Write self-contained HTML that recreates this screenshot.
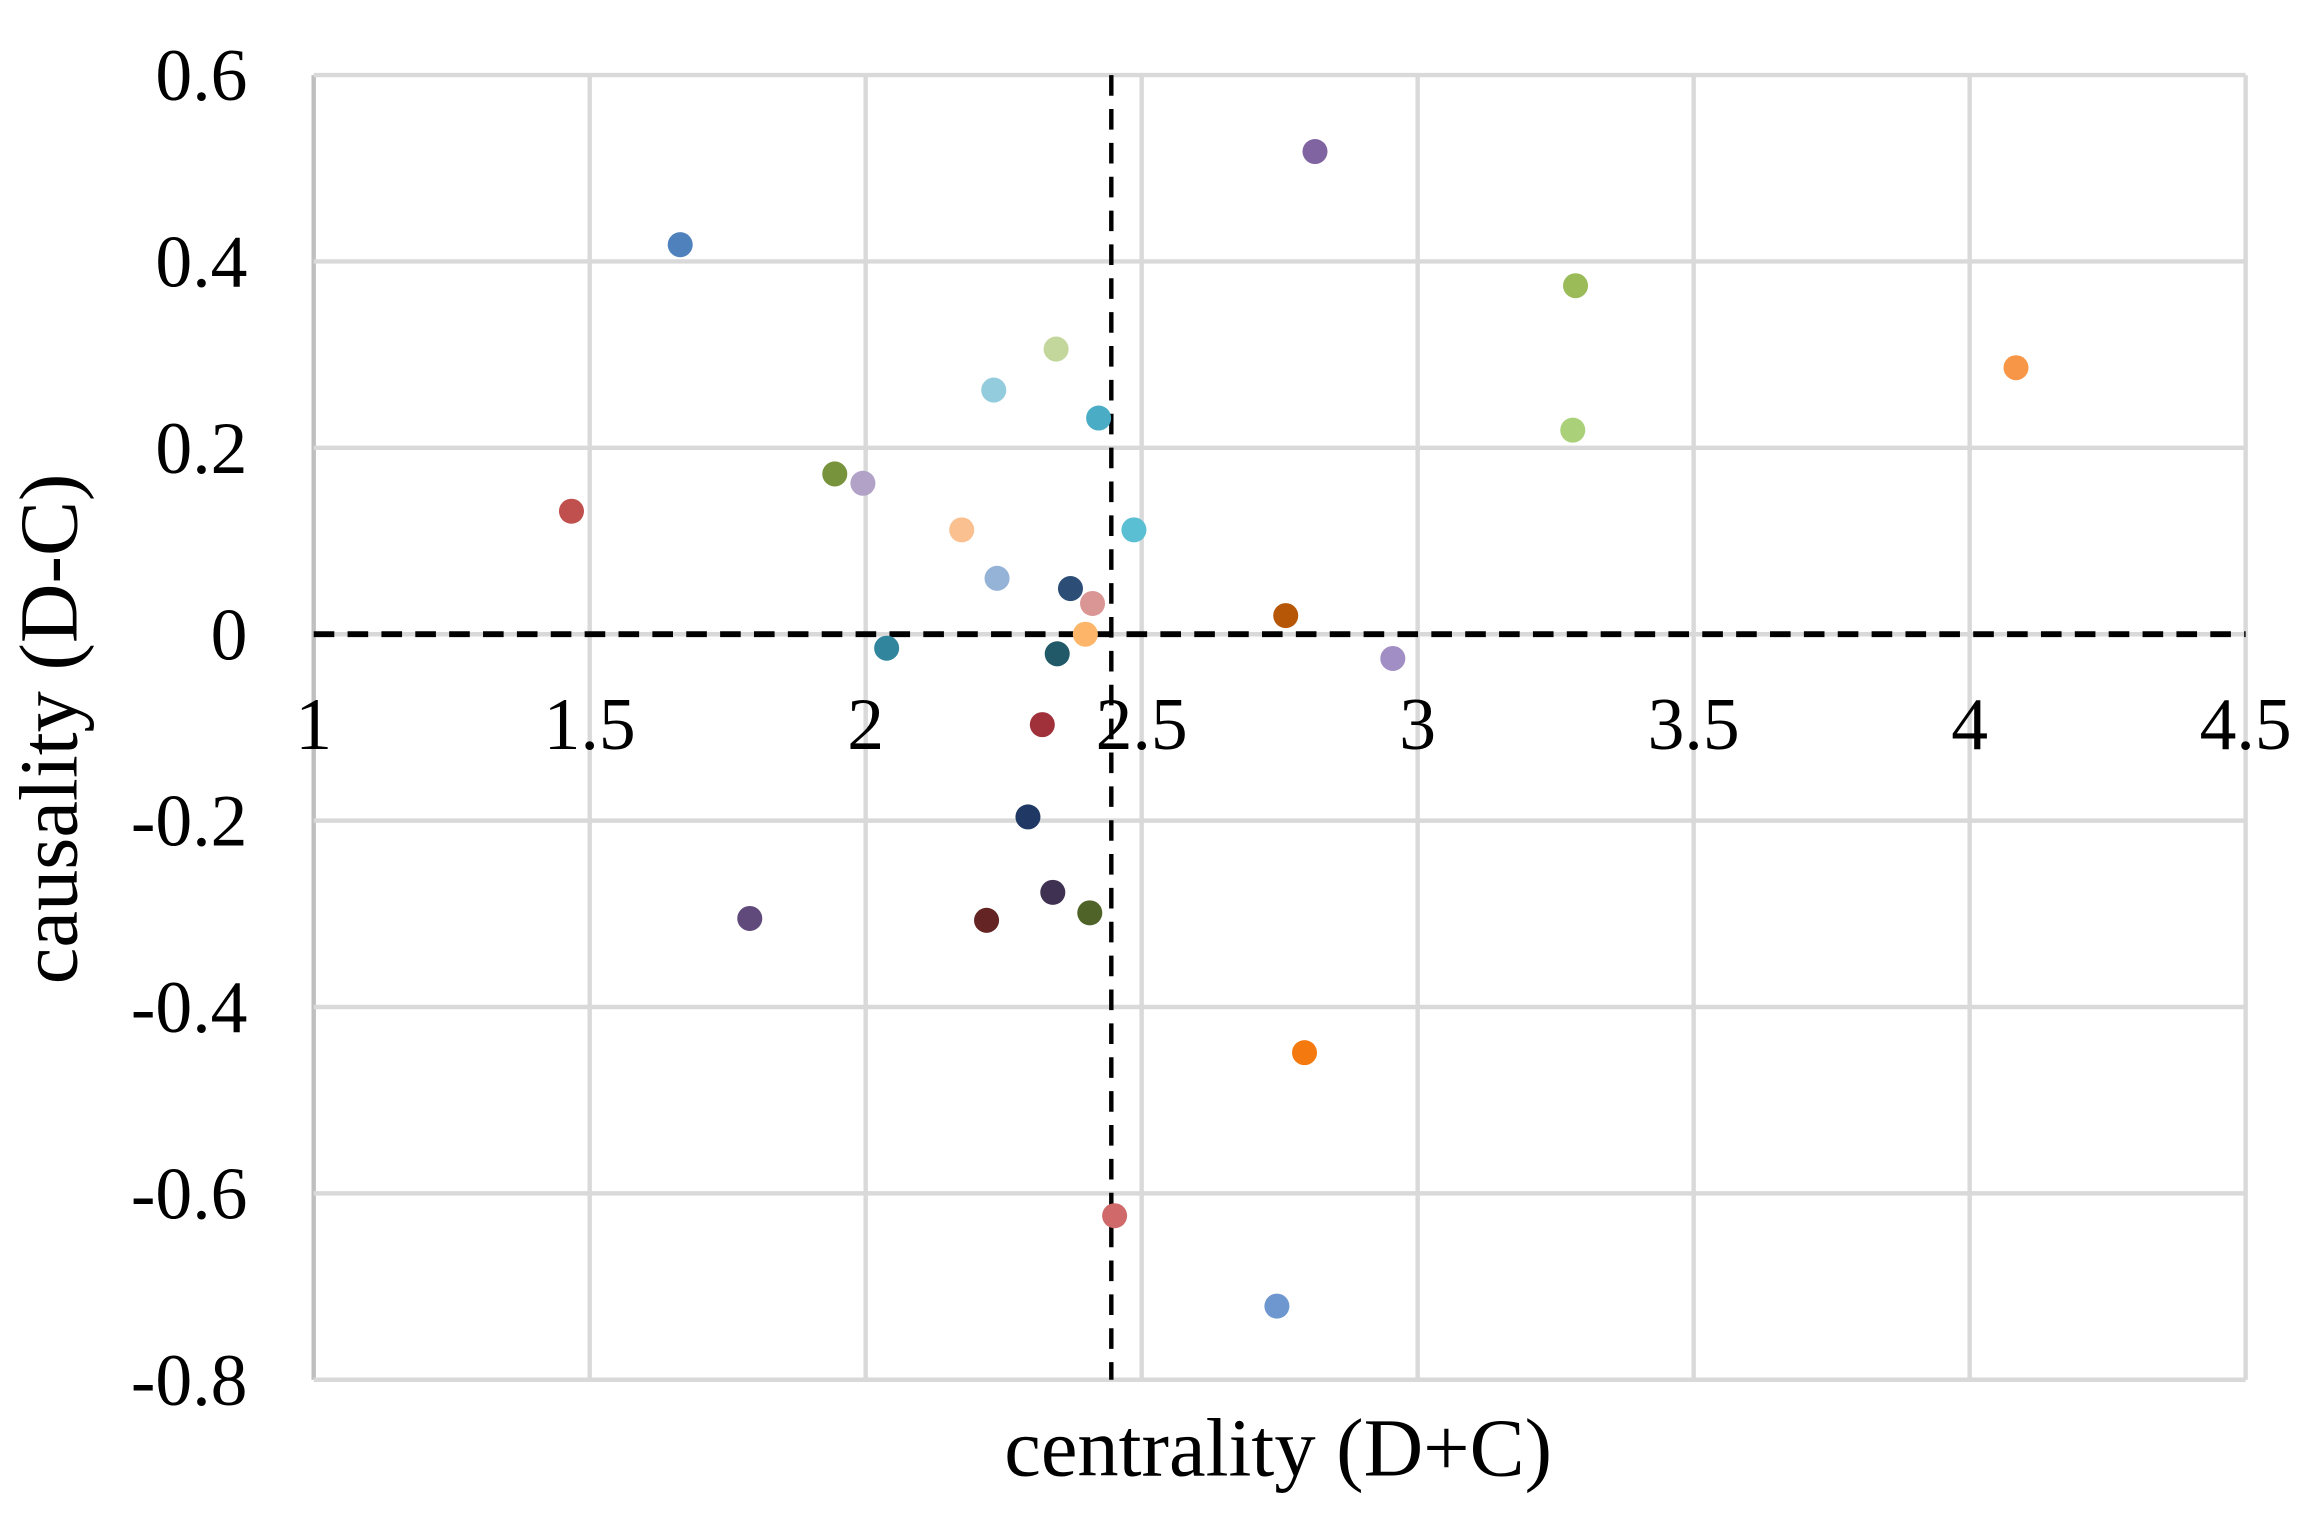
<!DOCTYPE html>
<html><head><meta charset="utf-8"><style>
html,body{margin:0;padding:0;background:#fff;}
svg{display:block;font-family:"Liberation Serif",serif;}
</style></head><body>
<svg id="chart" width="2309" height="1532" viewBox="0 0 1568 1040.4" xmlns="http://www.w3.org/2000/svg">
<g id="grid"></g>
<g id="ticks"></g>
<g id="refs"></g>
<g id="pts"></g>
<text x="868" y="1002" font-size="56" text-anchor="middle">centrality (D+C)</text>
<text transform="translate(52,495) rotate(-90)" font-size="56" text-anchor="middle">causality (D-C)</text>
</svg>
<script>
const xTicks=[1,1.5,2,2.5,3,3.5,4,4.5];
const xTickLabels=["1","1.5","2","2.5","3","3.5","4","4.5"];
const yTicks=[0.6,0.4,0.2,0,-0.2,-0.4,-0.6,-0.8];
const yTickLabels=["0.6","0.4","0.2","0","-0.2","-0.4","-0.6","-0.8"];
const xRef=2.445;
const yRef=0;
const xs=[2.814,1.664,3.286,2.345,4.084,2.232,2.422,3.281,1.944,1.995,1.467,2.174,2.486,2.238,2.371,2.411,2.761,2.398,2.038,2.347,2.955,2.320,2.294,2.339,1.790,2.219,2.406,2.795,2.451,2.745];
const ys=[0.518,0.418,0.374,0.306,0.286,0.262,0.232,0.219,0.172,0.162,0.132,0.112,0.112,0.060,0.049,0.033,0.020,0.000,-0.015,-0.021,-0.026,-0.097,-0.196,-0.277,-0.305,-0.307,-0.299,-0.449,-0.624,-0.721];
const colors=["#8064a2","#4f81bd","#9bbb59","#c3d69b","#f79646","#93cddd","#4bacc6","#aad07a","#77933c","#b3a2c7","#c0504d","#fac090","#5bbfd3","#95b3d7","#2c4d75","#d99694","#b65708","#fdb56a","#31859c","#215968","#a18ec4","#a0313b","#1f3864","#3f3151","#604a7b","#632423","#4f6228","#f47a0f","#d06a6a","#6f97cf"];
const L=213,R=1525,T=51,B=937;
const sx=v=>L+(v-1)/(4.5-1)*(R-L);
const sy=v=>T+(0.6-v)/(0.6-(-0.8))*(B-T);
const NS="http://www.w3.org/2000/svg";
function mk(tag,attrs,parent){const e=document.createElementNS(NS,tag);for(const k in attrs)e.setAttribute(k,attrs[k]);parent.appendChild(e);return e;}
const grid=document.getElementById('grid'),ticks=document.getElementById('ticks'),refs=document.getElementById('refs'),pts=document.getElementById('pts');
xTicks.forEach((v,i)=>{
  const l=mk('line',{x1:sx(v),x2:sx(v),y1:T,y2:B,stroke:i==0?'#bfbfbf':'#d9d9d9','stroke-width':3},grid);
  
  
  const t=mk('text',{x:sx(v),y:sy(0)+78,'font-size':50,'text-anchor':'middle'},ticks);
  t.textContent=xTickLabels[i];
  
  
});
yTicks.forEach((v,i)=>{
  const l=mk('line',{x1:L,x2:R,y1:sy(v),y2:sy(v),stroke:'#d9d9d9','stroke-width':3},grid);
  
  
  const t=mk('text',{x:168,y:sy(v)+17,'font-size':50,'text-anchor':'end'},ticks);
  t.textContent=yTickLabels[i];
  
  
});
const hr=mk('line',{x1:L,x2:R,y1:sy(yRef),y2:sy(yRef),stroke:'#000','stroke-width':4,'stroke-dasharray':'14 9'},refs);


const vr=mk('line',{x1:sx(xRef),x2:sx(xRef),y1:T,y2:B,stroke:'#000','stroke-width':3,'stroke-dasharray':'14 9'},refs);


xs.forEach((x,i)=>{
  const c=mk('circle',{cx:sx(x),cy:sy(ys[i]),r:8.5,fill:colors[i]},pts);
  
  
});
</script>
</body></html>
